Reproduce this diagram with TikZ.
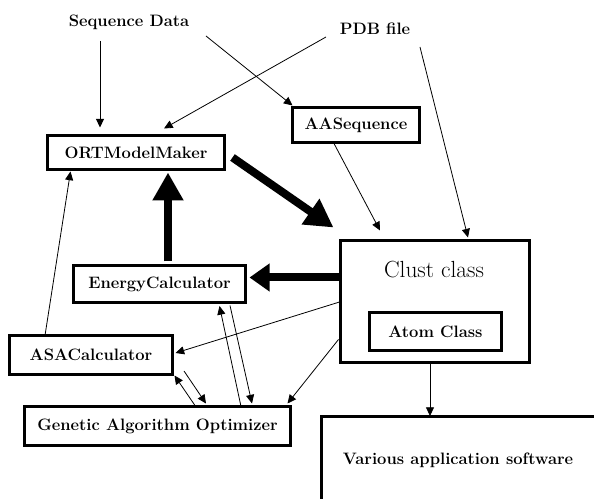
\documentclass[tikz,border=0pt]{standalone}
\usetikzlibrary{arrows.meta,calc}

\tikzset{every picture/.style={line width=0.75pt}}
\tikzset{
  classbox/.style={draw, line width=2.25pt, inner sep=0pt, outer sep=0pt, font=\fontsize{12.4}{14}\selectfont\bfseries},
  datatext/.style={inner sep=0pt, anchor=base, font=\fontsize{12.4}{14}\selectfont\bfseries},
  thinarrow/.style={line width=0.6pt, -{Triangle[length=6.5pt,width=6pt]}},
  fatarrow/.style={line width=6pt, -{Triangle[length=21pt,width=22pt]}},
}

\begin{document}
\begin{tikzpicture}[x=0.75pt,y=0.75pt,yscale=-1,xscale=1]
\useasboundingbox (0,0) rectangle (594,499);
\clip (0,0) rectangle (594,499);

% Text Node
\node[datatext] (seq) at (129,27) {Sequence Data};
% Text Node
\node[datatext] (pdb) at (375,35) {PDB file};

%Shape: Rectangle
\node[classbox, minimum width=132.75pt, minimum height=25.5pt] (ort) at (136,152.5) {ORTModelMaker};
%Shape: Rectangle
\node[classbox, minimum width=95.25pt, minimum height=26.25pt] (aas) at (356,125) {AASequence};
%Shape: Rectangle
\node[classbox, minimum width=141.75pt, minimum height=91.5pt] (clust) at (435,301.5) {};
% Text Node
\node[inner sep=0pt, anchor=base, font=\fontsize{17.5}{20}\selectfont] (clusttitle) at ($(clust.north)+(-1,37.5)$) {Clust class};
%Shape: Rectangle
\node[classbox, minimum width=99pt, minimum height=28.5pt] (atom) at ($(clust.north)+(0.5,91)$) {Atom Class};
%Shape: Rectangle
\node[classbox, minimum width=129pt, minimum height=27.75pt] (energy) at (159.5,284) {EnergyCalculator};
%Shape: Rectangle
\node[classbox, minimum width=122.25pt, minimum height=29.25pt] (asa) at (91,355) {ASACalculator};
%Shape: Rectangle
\node[classbox, minimum width=199.5pt, minimum height=29.25pt] (gen) at (157.5,426) {Genetic Algorithm Optimizer};
%Shape: Rectangle
\node[classbox, anchor=north west, minimum width=240pt, minimum height=100pt] (appsframe) at (321,417) {};
% Text Node
\node[datatext] (apps) at (458,465) {Various application software};

%Straight Lines
\draw[thinarrow] ($(seq.base)+(-29,14)$) -- ($(ort.north)+(-36,-8)$);
\draw[thinarrow] ($(seq.base)+(77,9)$) -- ($(aas.north west)+(0,-2)$);
\draw[thinarrow] ($(pdb.base)+(-49,2)$) -- ($(ort.north)+(28,-7)$);
\draw[thinarrow] ($(pdb.base)+(45,12)$) -- ($(clust.north)+(33,-3)$);
\draw[thinarrow] ($(aas.south)+(-22,1)$) -- ($(clust.north)+(-55,-10)$);
\draw[thinarrow] ($(asa.north)+(-46,0)$) -- ($(ort.south west)+(23,2)$);
\draw[thinarrow] ($(clust.west)+(-1,0.5)$) -- ($(asa.east)+(3,-2)$);
\draw[thinarrow] ($(clust.west)+(-2,38)$) -- ($(gen.north east)+(-3,-3)$);
\draw[thinarrow] ($(gen.north)+(83.5,0)$) -- ($(energy.south)+(60,3.5)$);
\draw[thinarrow] ($(energy.south)+(70.5,3)$) -- ($(gen.north)+(94.5,-3)$);
\draw[thinarrow] ($(gen.north)+(37.5,-1)$) -- ($(asa.south east)+(2,1)$);
\draw[thinarrow] ($(asa.south east)+(11.5,-3.5)$) -- ($(gen.north)+(48.5,-3)$);
\draw[thinarrow] ($(clust.south)+(-5,0)$) -- ($(appsframe.north west)+(109,-1)$);

%Thick Arrows
\draw[fatarrow] ($(ort.east)+(8,5)$) -- ($(clust.north west)+(-7,-13)$);
\draw[fatarrow, -{Triangle[length=15pt,width=20pt]}] ($(clust.west)+(0,-24)$) -- ($(energy.east)+(4,-6.5)$);
\draw[fatarrow] ($(energy.north)+(8.5,-4)$) -- ($(ort.south)+(32,3)$);

\end{tikzpicture}
\end{document}
